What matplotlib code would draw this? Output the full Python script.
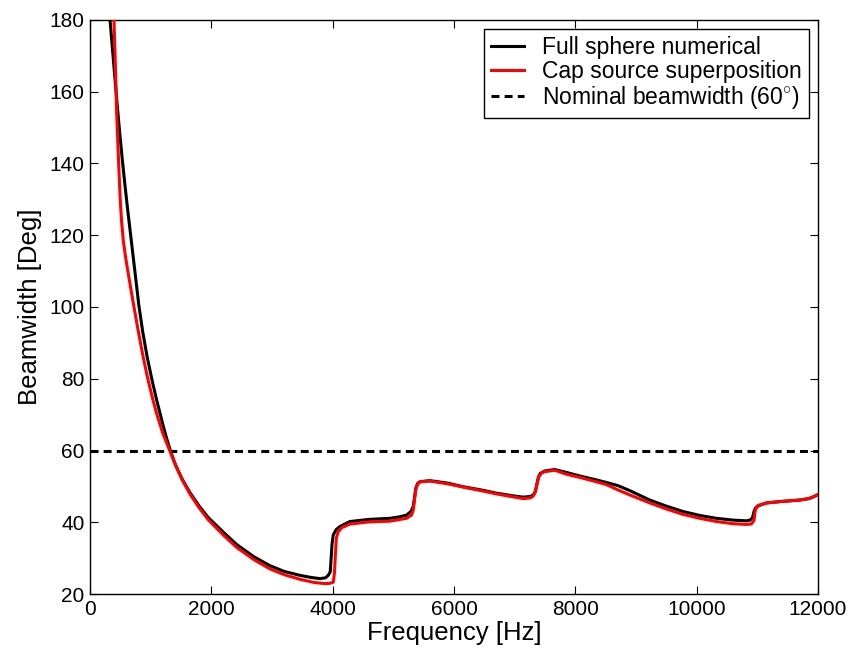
import matplotlib
matplotlib.use("Agg")
import matplotlib.pyplot as plt

plt.rcParams['font.family'] = ['Liberation Sans', 'DejaVu Sans']
plt.rcParams['mathtext.fontset'] = 'custom'
plt.rcParams['mathtext.rm'] = 'Liberation Sans'
plt.rcParams['mathtext.it'] = 'Liberation Sans:italic'

# Full sphere numerical beamwidth
freq_full = [330, 370, 410, 450, 490, 530, 570, 615, 660, 705, 750, 805, 870, 940,
             1020, 1100, 1200, 1260, 1318, 1380, 1420, 1520, 1650, 1800, 1950, 2060,
             2200, 2417, 2700, 2966, 3200, 3461, 3650, 3789, 3880, 3927, 3960, 3975,
             3990, 4010, 4060, 4118, 4283, 4600, 4942, 5100, 5217, 5290, 5330, 5350,
             5370, 5400, 5436, 5601, 5900, 6150, 6450, 6700, 7000, 7140, 7260, 7305,
             7340, 7365, 7390, 7420, 7497, 7661, 7850, 8073, 8300, 8512, 8704, 8900,
             9226, 9500, 9775, 10050, 10325, 10600, 10819, 10880, 10920, 10945, 10970,
             11016, 11154, 11400, 11703, 11850, 11923, 12000]
bw_full = [180, 172, 164, 156, 148.5, 141.5, 135, 128, 121.5, 115, 108.5, 100.5, 93, 86.3,
           79.8, 74.0, 67.3, 63.6, 60.3, 57.3, 55.6, 52.0, 48.2, 44.5, 41.3, 39.5,
           37.2, 33.8, 30.4, 27.9, 26.3, 25.2, 24.6, 24.3, 24.5, 25.2, 26.2, 30.0,
           34.0, 36.5, 38.0, 38.8, 40.2, 40.8, 41.1, 41.5, 42.0, 43.0, 44.5, 47.0,
           49.5, 50.8, 51.3, 51.6, 50.9, 49.9, 49.0, 48.1, 47.3, 47.0, 47.2, 47.6,
           48.5, 50.5, 52.5, 53.6, 54.3, 54.7, 53.9, 52.9, 52.0, 51.1, 50.2, 48.8,
           46.2, 44.5, 43.0, 41.9, 41.1, 40.6, 40.4, 40.6, 41.3, 43.0, 44.0,
           44.6, 45.4, 45.8, 46.2, 46.6, 47.1, 47.7]

# Cap source superposition beamwidth
freq_cap = [395, 410, 425, 440, 455, 470, 485, 500, 520, 549, 590, 632, 690, 725, 790,
            870, 950, 1030, 1100, 1200, 1318, 1420, 1520, 1650, 1800, 1950, 2060,
            2200, 2417, 2700, 2966, 3200, 3461, 3700, 3873, 3960, 4010, 4030, 4045,
            4060, 4090, 4150, 4283, 4600, 4942, 5217, 5300, 5330, 5350, 5375, 5410,
            5450, 5601, 5900, 6150, 6450, 6700, 7000, 7140, 7260, 7305, 7340, 7370,
            7400, 7450, 7497, 7661, 7850, 8073, 8300, 8512, 8704, 8900, 9226, 9500,
            9775, 10050, 10325, 10600, 10819, 10900, 10945, 10965, 10990, 11016,
            11154, 11400, 11703, 11850, 11923, 12000]
bw_cap = [180, 172, 163, 154, 147.5, 141, 135, 129.5, 124, 118.5, 113.5, 109.2, 103.4,
          100.0, 93.8, 86.6, 80.2, 74.6, 70.2, 64.8, 59.8, 55.5, 51.8, 47.8, 44.0,
          40.7, 38.8, 36.4, 33.0, 29.6, 27.0, 25.4, 24.1, 23.2, 22.9, 23.0, 23.3,
          26.0, 31.0, 35.5, 37.3, 38.5, 39.5, 40.1, 40.3, 41.1, 42.0, 43.5, 46.5,
          49.5, 50.9, 51.3, 51.5, 50.7, 49.8, 48.8, 47.9, 47.0, 46.6, 46.8, 47.3,
          48.5, 50.8, 52.8, 53.8, 54.1, 54.5, 53.4, 52.5, 51.5, 50.5, 49.0, 47.6,
          45.4, 43.7, 42.2, 41.1, 40.2, 39.6, 39.4, 39.5, 40.5, 43.2, 44.3, 44.7,
          45.4, 45.8, 46.2, 46.6, 47.1, 47.7]

nominal_bw = 60
x_range = [0, 12000]
x_ticks = [0, 2000, 4000, 6000, 8000, 10000, 12000]
y_ticks = [20, 40, 60, 80, 100, 120, 140, 160, 180]

fig = plt.figure(figsize=(8.53, 6.55), dpi=100)
ax = fig.add_axes([0.1055, 0.0931, 0.8535, 0.8764])

ax.plot(freq_full, bw_full, color='black', lw=2.2, label='Full sphere numerical',
        solid_joinstyle='round', zorder=3)
ax.plot(freq_cap, bw_cap, color='red', lw=2.2, label='Cap source superposition',
        solid_joinstyle='round', zorder=4)
ax.plot(x_range, [nominal_bw, nominal_bw], color='black', lw=2.2, dashes=(2.6, 1.7),
        label='Nominal beamwidth (60$^{\\circ}$)', zorder=2)

ax.set_xlim(0, 12000)
ax.set_ylim(20, 180)
ax.set_xticks(x_ticks)
ax.set_yticks(y_ticks)
ax.tick_params(direction='in', length=6, width=0.8, top=True, right=True,
               labelsize=15, pad=4)
for sp in ax.spines.values():
    sp.set_linewidth(1.0)

ax.set_xlabel('Frequency [Hz]', fontsize=18.5, labelpad=2)
ax.set_ylabel('Beamwidth [Deg]', fontsize=18.5, labelpad=5)

leg = ax.legend(loc='upper right', fontsize=16.5, frameon=True, fancybox=False,
                edgecolor='black', framealpha=1, borderaxespad=0.4,
                handlelength=1.45, handletextpad=0.8, labelspacing=0.05,
                borderpad=0.3)
leg.get_frame().set_linewidth(1.0)

fig.savefig('out.png', dpi=100)
